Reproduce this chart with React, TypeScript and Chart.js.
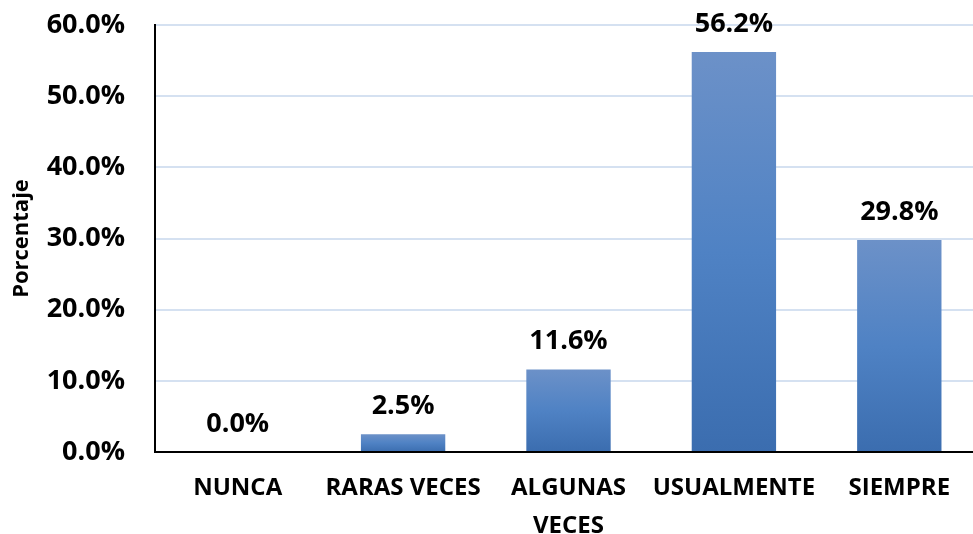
import React, { useEffect, useRef } from 'react';
import { Chart, registerables } from 'chart.js';

Chart.register(...registerables);

const categories: (string | string[])[] = ['NUNCA', 'RARAS VECES', ['ALGUNAS', 'VECES'], 'USUALMENTE', 'SIEMPRE'];
const values: number[] = [0.0, 2.5, 11.6, 56.2, 29.8];
const yMin = 0;
const yMax = 60;
const yStep = 10;
const yTitle = 'Porcentaje';

const FONT = "'Open Sans', 'Liberation Sans', sans-serif";

const dataLabels = {
  id: 'dataLabels',
  afterDatasetsDraw(chart: any) {
    const ctx = chart.ctx;
    const meta = chart.getDatasetMeta(0);
    ctx.save();
    ctx.font = `bold 27px ${FONT}`;
    ctx.fillStyle = '#000000';
    ctx.textAlign = 'center';
    ctx.textBaseline = 'alphabetic';
    meta.data.forEach((el: any, i: number) => {
      const v = chart.data.datasets[0].data[i] as number;
      ctx.fillText(v.toFixed(1) + '%', el.x, el.y - 20);
    });
    ctx.restore();
  },
};

export default function App() {
  const ref = useRef<HTMLCanvasElement | null>(null);
  useEffect(() => {
    document.body.style.margin = '0';
    const canvas = ref.current!;
    const chart = new Chart(canvas, {
      type: 'bar',
      data: {
        labels: categories as any,
        datasets: [
          {
            data: values,
            backgroundColor: (c: any) => {
              const ch = c.chart;
              if (!ch.chartArea || c.dataIndex === undefined) return '#4F81BD';
              const ys = ch.scales.y;
              const v = c.raw as number;
              const top = ys.getPixelForValue(v);
              const bottom = ys.getPixelForValue(0);
              const g = ch.ctx.createLinearGradient(0, top, 0, Math.max(bottom, top + 1));
              g.addColorStop(0, '#6C91C8');
              g.addColorStop(0.5, '#4F82C4');
              g.addColorStop(1, '#3B6DAF');
              return g;
            },
            borderWidth: 0,
            barPercentage: 0.51,
            categoryPercentage: 1,
          },
        ],
      },
      options: {
        responsive: false,
        animation: false,
        layout: { padding: { top: 25, right: 0, left: 0, bottom: 0 } },
        plugins: {
          legend: { display: false },
          tooltip: { enabled: false },
        },
        scales: {
          x: {
            grid: { display: false, drawTicks: false },
            border: { display: true, color: '#000000', width: 2 },
            ticks: {
              color: '#000000',
              font: { family: FONT, size: 24, weight: 'bold', lineHeight: '38px' as any },
              padding: 17,
              maxRotation: 0,
              autoSkip: false,
            },
            afterFit: (s: any) => {
              s.height = 82;
              s.paddingLeft = 0;
              s.paddingRight = 0;
            },
          },
          y: {
            min: yMin,
            max: yMax,
            grid: { color: '#D5E1F1', lineWidth: 2, drawTicks: false },
            border: { display: true, color: '#000000', width: 2 },
            ticks: {
              stepSize: yStep,
              color: '#000000',
              font: { family: FONT, size: 27, weight: 'bold' },
              padding: 30,
              callback: (v: any) => Number(v).toFixed(1) + '%',
            },
            title: {
              display: true,
              text: yTitle,
              color: '#000000',
              font: { family: FONT, size: 22, weight: 'bold' },
              padding: { top: 9, bottom: 0 },
            },
            afterFit: (s: any) => {
              s.width = 155;
              s.paddingTop = 0;
              s.paddingBottom = 0;
            },
          },
        },
      },
      plugins: [dataLabels],
    });
    return () => chart.destroy();
  }, []);
  return (
    <div style={{ width: 973, height: 534, overflow: 'hidden', background: '#ffffff' }}>
      <canvas ref={ref} width={982} height={534} style={{ display: 'block' }} />
    </div>
  );
}
